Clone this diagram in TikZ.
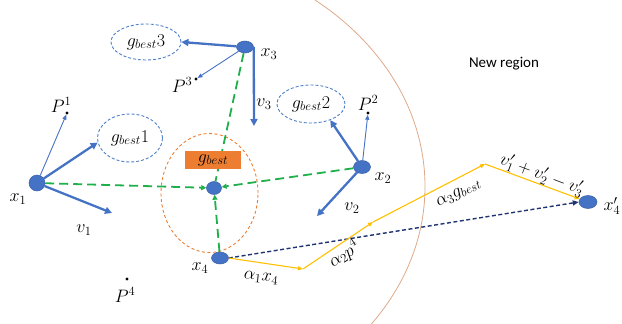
\RequirePackage{fix-cm}
\documentclass[tikz,border=0pt]{standalone}
\usepackage{fontspec}
\newfontfamily\calibri{Carlito}
\usetikzlibrary{shapes.geometric,arrows.meta}
\definecolor{pblue}{HTML}{4472C4}
\definecolor{eblue}{HTML}{4F81C9}
\definecolor{ggreen}{HTML}{1FAF4B}
\definecolor{orng}{HTML}{ED7D31}
\definecolor{arcc}{HTML}{DDA98A}
\definecolor{yel}{HTML}{FFC000}
\definecolor{navy}{HTML}{1F3470}
\begin{document}
\begin{tikzpicture}[x=1pt,y=-1pt,
  particle/.style={ellipse, fill=pblue, draw=pblue!85!black, line width=0.5pt, inner sep=0pt},
  pdot/.style={circle, fill=black, inner sep=0pt, minimum size=3.2pt},
  gbell/.style={ellipse, draw=eblue, line width=0.9pt, dash pattern=on 3pt off 2pt, inner sep=0pt},
  lbl/.style={font=\fontsize{18}{21}\selectfont, inner sep=0.5pt},
  thickarr/.style={draw=pblue, line width=2.3pt, -{Triangle[length=7pt,width=7pt]}},
  thinarr/.style={draw=pblue, line width=0.9pt, -{Triangle[length=5pt,width=4pt]}},
  gline/.style={draw=ggreen, line width=1.8pt, dash pattern=on 9pt off 5pt},
  garr/.style={gline, -{Triangle[length=5pt,width=5pt]}},
  yarr/.style={draw=yel, line width=1.1pt, -{Triangle[length=5pt,width=4pt]}},
  narr/.style={draw=navy, line width=1.4pt, dash pattern=on 4pt off 2.5pt, -{Triangle[length=6pt,width=5pt]}}
]
\useasboundingbox (0,0) rectangle (622,324);
% region boundary arc
\begin{scope}
  \clip (300,0) rectangle (622,324);
  \draw[arcc, line width=0.8pt] (125,186.5) ellipse[x radius=300pt, y radius=241pt];
\end{scope}
% neighbourhood of the global best
\node[ellipse, draw=orng, line width=0.9pt, dash pattern=on 3pt off 2.5pt, minimum width=97pt, minimum height=119pt, inner sep=0pt] (area) at (209.5,193) {};

% particles
\node[particle, minimum width=16pt, minimum height=16pt] (x1) at (37,183) {};
\node[particle, minimum width=17pt, minimum height=13pt] (x2) at (362,167) {};
\node[particle, minimum width=17pt, minimum height=12pt] (x3) at (245,47) {};
\node[particle, minimum width=17pt, minimum height=12pt] (x4) at (220,258) {};
\node[particle, minimum width=18pt, minimum height=13pt] (x4p) at (588,202) {};
\node[particle, minimum width=15pt, minimum height=13pt] (gb) at (214,188) {};

% personal bests
\node[pdot] (P1) at (67,113) {};
\node[pdot] (P2) at (368,113) {};
\node[pdot] (P3) at (196,79) {};
\node[pdot] (P4) at (127,279) {};

% local bests
\node[gbell, minimum width=65pt, minimum height=48pt, lbl] (gb1) at (130,138) {$g_{best}1$};
\node[gbell, minimum width=70pt, minimum height=36pt, lbl] (gb3) at (146,42) {$g_{best}3$};
\node[gbell, minimum width=68pt, minimum height=38pt, lbl] (gb2) at (311,104) {$g_{best}2$};

% velocity end points
\coordinate (v1e) at (112,213);
\coordinate (v2e) at (317,216);
\coordinate (v3e) at (254,126);
% yellow path corners
\coordinate (y1) at (303,269);
\coordinate (y2) at (373,222);
\coordinate (y3) at (485,164);

% green lines to global best
\draw[gline] (x3) -- (gb);
\node[fill=orng, minimum width=56pt, minimum height=18pt, inner sep=0pt, lbl] (box) at (213,160) {$g_{best}$};
\draw[garr] (x1) -- (gb);
\draw[garr] (x2) -- (gb);
\draw[garr] (x4) -- (gb);

% particle 1
\draw[thinarr] (x1) -- (P1);
\draw[thickarr] (x1) -- (gb1.188);
\draw[thickarr] (x1) -- (v1e);
% particle 3
\draw[thickarr] (x3) -- (gb3.east);
\draw[thinarr] (x3) -- (P3);
\draw[thickarr] (x3.east) -- (v3e);
% particle 2
\draw[thickarr] (x2) -- (gb2.-40);
\draw[thinarr] (x2) -- (P2);
\draw[thickarr] (x2) -- (v2e);

% move of particle 4
\draw[narr] (x4.east) -- (x4p.west);
\draw[yarr] (x4.east) -- (y1);
\draw[yarr] (y1) -- (y2);
\draw[yarr] (y2) -- (y3);
\draw[yarr] (y3) -- (x4p.160);

% labels
\node[lbl] (lx1) at (18,199) {$x_1$};
\node[lbl] (lx2) at (383,178) {$x_2$};
\node[lbl] (lx3) at (269,54) {$x_3$};
\node[lbl] (lx4) at (200,268) {$x_4$};
\node[lbl] (lx4p) at (612,206) {$x_4'$};
\node[lbl] (lP1) at (61,105) {$P^1$};
\node[lbl] (lP2) at (368,103) {$P^2$};
\node[lbl] (lP3) at (182,85) {$P^3$};
\node[lbl] (lP4) at (125,295) {$P^4$};
\node[lbl] (lv1) at (84,230) {$v_1$};
\node[lbl] (lv2) at (352,208) {$v_2$};
\node[lbl] (lv3) at (264,104) {$v_3$};
\node[lbl, rotate=-6] (la1) at (261,278) {$\alpha_1 x_4$};
\node[lbl, rotate=33] (la2) at (344,254) {$\alpha_2 p^4$};
\node[lbl, rotate=27] (la3) at (459,194) {$\alpha_3 g_{best}$};
\node[lbl, rotate=-21] (lvp) at (542,175) {$v_1'+v_2'-v_3'$};
\node[font=\calibri\fontsize{15}{18}\selectfont] (newreg) at (504,64) {New region};
\end{tikzpicture}
\end{document}
